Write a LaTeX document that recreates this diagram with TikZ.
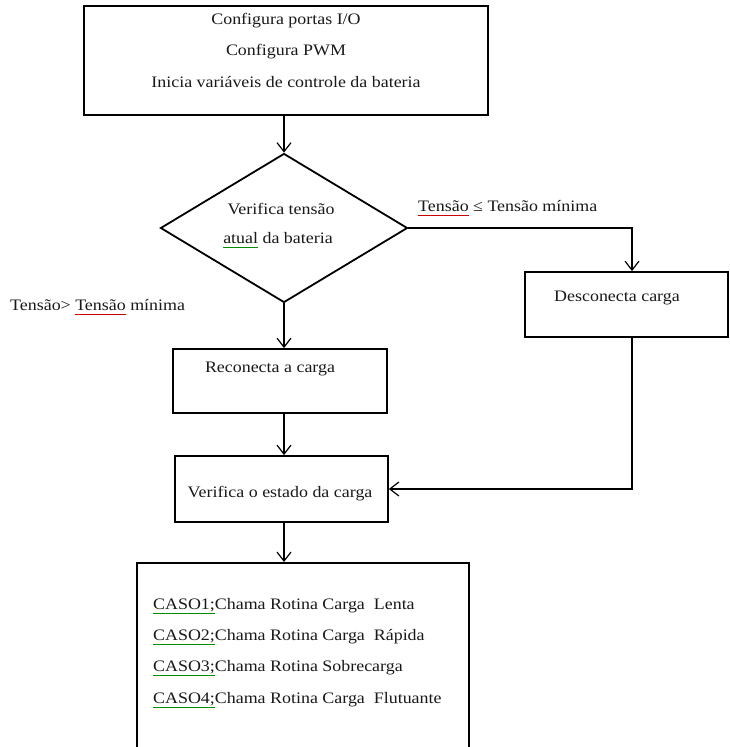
\documentclass[tikz,border=0pt]{standalone}
\usepackage{fontspec}
\setmainfont[FakeStretch=1.12]{Liberation Serif}
\usetikzlibrary{shapes.geometric,arrows.meta}
\newcommand\squig[2]{\setbox0\hbox{#2}\rlap{\raisebox{-3.5pt}{\textcolor{#1}{\rule{\wd0}{0.6pt}}}}\box0\relax}
\begin{document}
\begin{tikzpicture}[x=1pt,y=-1pt,
  box/.style={draw=black, line width=1.8pt, rectangle, inner sep=0pt},
  decbox/.style={draw=black, line width=1.8pt, diamond, inner sep=0pt, aspect=1.66},
  txt/.style={inner sep=0pt, font=\fontsize{16}{19}\selectfont, text=black!90},
  conn/.style={draw=black, line width=1.2pt, -{Straight Barb[length=9pt,width=14pt,line width=1.2pt]}}]
\useasboundingbox (0,0) rectangle (730,747);
\clip (0,0) rectangle (730,747);
\fill[white] (0,0) rectangle (730,747);

% boxes
\node[box, minimum width=404pt, minimum height=109pt] (top) at (286,60.5) {};
\node[decbox, minimum width=247pt, minimum height=149pt] (dia) at (284,228) {};
\node[box, minimum width=203pt, minimum height=65pt] (desc) at (626.5,304.5) {};
\node[box, minimum width=214pt, minimum height=64pt] (recon) at (280,381) {};
\node[box, minimum width=213pt, minimum height=66pt] (verif) at (281.5,489) {};
\node[box, minimum width=332pt, minimum height=220pt, anchor=north] (final) at (303,562) {};

% texts
\node[txt] (t1) at (286,21) {Configura portas I/O};
\node[txt] (t2) at (286,52) {Configura PWM};
\node[txt] (t3) at (286,82) {Inicia variáveis de controle da bateria};
\node[txt] (d1) at (281,209) {Verifica tensão};
\node[txt] (d2) at (278,240) {\squig{green!55!black}{atual} da bateria};
\node[txt, anchor=west] (lr) at (418,208) {\squig{red!80!black}{Tensão} ≤ Tensão mínima};
\node[txt, anchor=west] (ll) at (10,307) {Tensão> \squig{red!80!black}{Tensão} mínima};
\node[txt] (dc) at (617,298) {Desconecta carga};
\node[txt] (rc) at (270,369) {Reconecta a carga};
\node[txt] (vc) at (280,494) {Verifica o estado da carga};
\node[txt, anchor=west] (c1) at (153,606) {\squig{green!55!black}{CASO1;}Chama Rotina Carga \ Lenta};
\node[txt, anchor=west] (c2) at (153,637) {\squig{green!55!black}{CASO2;}Chama Rotina Carga \ Rápida};
\node[txt, anchor=west] (c3) at (153,668) {\squig{green!55!black}{CASO3;}Chama Rotina Sobrecarga};
\node[txt, anchor=west] (c4) at (153,700) {\squig{green!55!black}{CASO4;}Chama Rotina Carga \ Flutuante};

% connectors
\coordinate (bend) at (632,228);
\draw[conn] (dia.north |- top.south) -- (dia.north);
\draw[conn] (dia.east) -- (bend) -- (bend |- desc.north);
\draw[conn] (dia.south) -- (dia.south |- recon.north);
\draw[conn] (dia.south |- recon.south) -- (dia.south |- verif.north);
\draw[conn] (dia.south |- verif.south) -- (dia.south |- final.north);
\draw[conn] (bend |- desc.south) -- (bend |- verif.east) -- (verif.east);
\end{tikzpicture}
\end{document}
